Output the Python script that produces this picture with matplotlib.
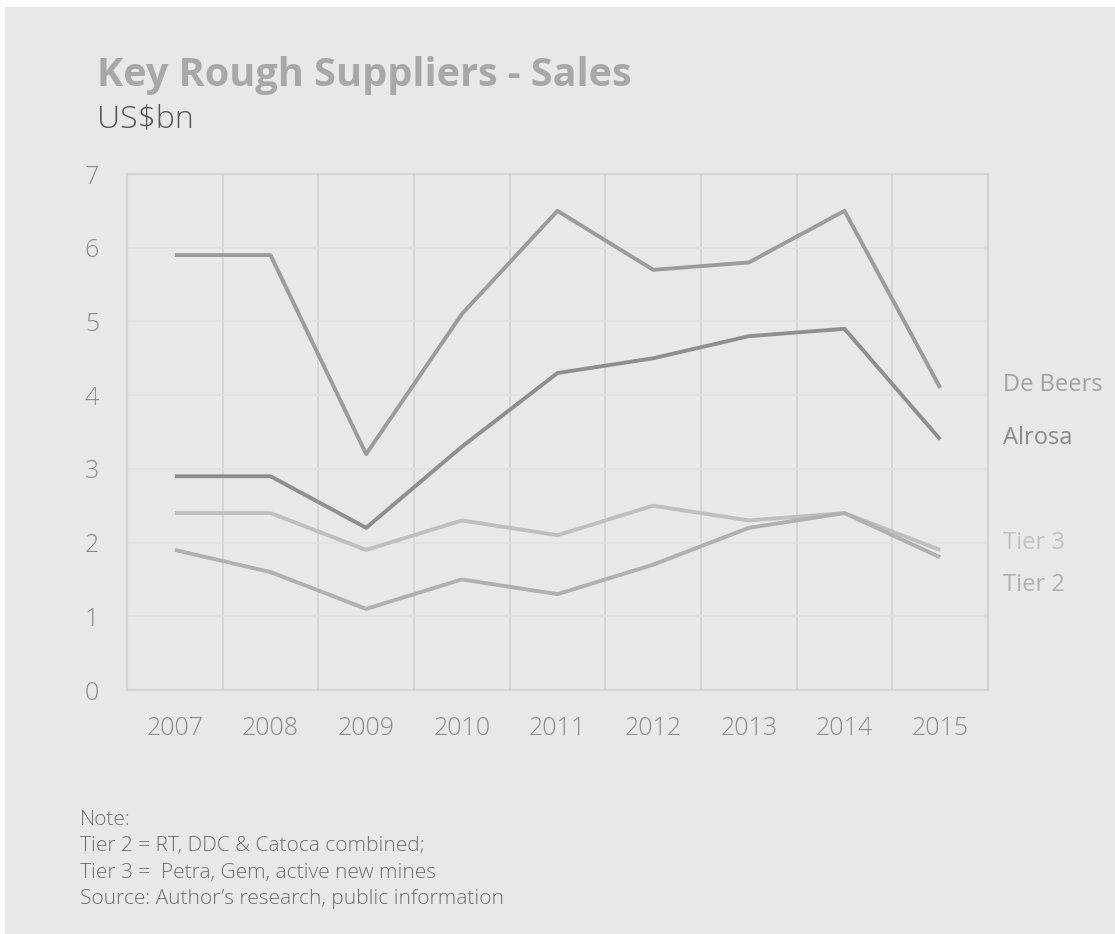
import matplotlib.pyplot as plt
from matplotlib.patches import Rectangle

# data (US$bn)
years = ['2007', '2008', '2009', '2010', '2011', '2012', '2013', '2014', '2015']
de_beers = [5.9, 5.9, 3.2, 5.1, 6.5, 5.7, 5.8, 6.5, 4.1]
alrosa = [2.9, 2.9, 2.2, 3.3, 4.3, 4.5, 4.8, 4.9, 3.4]
tier3 = [2.4, 2.4, 1.9, 2.3, 2.1, 2.5, 2.3, 2.4, 1.9]
tier2 = [1.9, 1.6, 1.1, 1.5, 1.3, 1.7, 2.2, 2.4, 1.8]
y_ticks = [0, 1, 2, 3, 4, 5, 6, 7]

notes = ['Note:',
         'Tier 2 = RT, DDC & Catoca combined;',
         'Tier 3 =  Petra, Gem, active new mines',
         "Source: Author\u2019s research, public information"]

plt.rcParams['font.family'] = ['Open Sans', 'DejaVu Sans']

bg = '#e8e8e8'
fig = plt.figure(figsize=(11.15, 9.34), dpi=100)
fig.patch.set_facecolor(bg)
# thin white strips along top and left edge
fig.patches.append(Rectangle((0, 1 - 7 / 934), 1, 7 / 934, transform=fig.transFigure,
                             facecolor='white', edgecolor='none', zorder=-10))
fig.patches.append(Rectangle((0, 0), 5 / 1115, 1, transform=fig.transFigure,
                             facecolor='white', edgecolor='none', zorder=-10))

ax = fig.add_axes([127 / 1115, 1 - 690 / 934, 861 / 1115, 516 / 934])
ax.set_facecolor(bg)

x = list(range(len(years)))
# series: values, line colour, label text, label colour, label nudge (pt)
series = [
    (de_beers, '#9c9c9c', 'De Beers', '#a2a2a2', 2),
    (alrosa, '#8f8f8f', 'Alrosa', '#8a8a8a', 1),
    (tier3, '#bfbfbf', 'Tier 3', '#c2c2c2', 5),
    (tier2, '#b0b0b0', 'Tier 2', '#b0b0b0', -20),
]
for vals, col, name, lcol, nudge in series:
    ax.plot(x, vals, color=col, lw=2.8, solid_capstyle='butt', zorder=3)
    ax.annotate(name, xy=(8.5, vals[-1]), xytext=(11, nudge), textcoords='offset points',
                va='center', ha='left', fontsize=17, color=lcol, annotation_clip=False)

ax.set_xlim(-0.5, 8.5)
ax.set_ylim(0, 7)

# vertical separators between categories, faint horizontal grid
for b in range(1, len(years)):
    ax.axvline(b - 0.5, color='#d3d3d3', lw=1.3, zorder=1)
for t in y_ticks[1:-1]:
    ax.axhline(t, color='#e1e1e1', lw=1.2, zorder=1)

for s in ax.spines.values():
    s.set_color('#d3d3d3')
    s.set_linewidth(1.6)

ax.set_xticks(x)
ax.set_xticklabels(years)
ax.set_yticks(y_ticks)
ax.tick_params(length=0, labelsize=18, labelcolor='#8c8c8c')
ax.tick_params(axis='x', pad=19)
ax.tick_params(axis='y', pad=20)
for lab in ax.get_xticklabels() + ax.get_yticklabels():
    lab.set_fontweight('light')

fig.text(97 / 1115, 1 - 86 / 934, 'Key Rough Suppliers - Sales', fontsize=28.5,
         fontweight='bold', color='#a8a8a8', va='baseline', ha='left')
fig.text(97 / 1115, 1 - 127 / 934, 'US$bn', fontsize=23, fontweight='light',
         color='#555555', va='baseline', ha='left')

for i, line in enumerate(notes):
    fig.text(80 / 1115, 1 - (825 + i * 26.3) / 934, line, fontsize=15,
             fontweight='light', color='#6e6e6e', va='baseline', ha='left')

fig.savefig('out.png', dpi=100, facecolor=fig.get_facecolor())
